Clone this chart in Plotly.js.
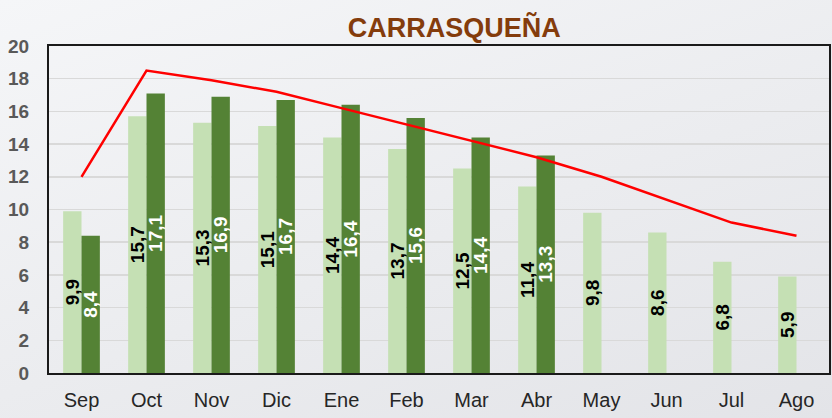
<!DOCTYPE html>
<html>
<head>
<meta charset="utf-8">
<script src="https://cdn.plot.ly/plotly-3.0.1.min.js"></script>
<style>
html,body{margin:0;padding:0;}
body{width:832px;height:418px;background:linear-gradient(160deg,#f5f6f8 0%,#ebecef 55%,#e3e4e8 100%);}
#chart{width:832px;height:418px;}
</style>
</head>
<body>
<div id="chart"></div>
<script>
const months = ["Sep","Oct","Nov","Dic","Ene","Feb","Mar","Abr","May","Jun","Jul","Ago"];
const seriesLight = [9.9,15.7,15.3,15.1,14.4,13.7,12.5,11.4,9.8,8.6,6.8,5.9];
const seriesDark = [8.4,17.1,16.9,16.7,16.4,15.6,14.4,13.3];
const seriesLine = [12.0,18.5,17.9,17.2,16.2,15.2,14.2,13.2,12.0,10.6,9.2,8.4];
const yTicks = [0,2,4,6,8,10,12,14,16,18,20];

const fmt = v => v.toFixed(1).replace('.', ',');
const FONT = '"Liberation Sans", Arial, sans-serif';

const traces = [
  {
    type:'bar', x: months, y: seriesLight,
    marker:{color:'#c5e0b4'},
    text: seriesLight.map(fmt), textposition:'inside', insidetextanchor:'middle',
    textangle:-90, constraintext:'none', cliponaxis:false,
    textfont:{family:FONT, size:19, color:'#000000', weight:'bold'},
    hoverinfo:'skip'
  },
  {
    type:'bar', x: months.slice(0, seriesDark.length), y: seriesDark,
    marker:{color:'#548235'},
    text: seriesDark.map(fmt), textposition:'inside', insidetextanchor:'middle',
    textangle:-90, constraintext:'none', cliponaxis:false,
    textfont:{family:FONT, size:19, color:'#ffffff', weight:'bold'},
    hoverinfo:'skip'
  },
  {
    type:'scatter', mode:'lines', x: months, y: seriesLine,
    line:{color:'#ff0000', width:2.5},
    hoverinfo:'skip'
  }
];

const layout = {
  width:832, height:418,
  margin:{l:49, r:3, t:46, b:45},
  paper_bgcolor:'rgba(0,0,0,0)',
  plot_bgcolor:'rgba(0,0,0,0)',
  showlegend:false,
  barmode:'group',
  bargap:0.435,
  bargroupgap:0,
  title:{
    text:'CARRASQUEÑA',
    font:{family:FONT, size:27, color:'#843c0c', weight:'bold'},
    x:0.546, xanchor:'center', y:0.935, yanchor:'middle', xref:'container', yref:'container'
  },
  xaxis:{
    type:'category', categoryorder:'array', categoryarray: months,
    showgrid:false, zeroline:false,
    showline:true, linecolor:'#1a1a1a', linewidth:2, mirror:true,
    ticks:'', ticklabelstandoff:8,
    tickfont:{family:FONT, size:20, color:'#262626'}
  },
  yaxis:{
    range:[0,20], tickvals:yTicks, ticktext:yTicks.map(String),
    showgrid:true, gridcolor:'#d9d9d9', gridwidth:1.5,
    zeroline:false,
    showline:true, linecolor:'#1a1a1a', linewidth:2, mirror:true,
    ticks:'', ticklabelstandoff:14,
    tickfont:{family:FONT, size:19, color:'#595959', weight:'bold'}
  }
};

Plotly.newPlot('chart', traces, layout, {staticPlot:true, displayModeBar:false});
</script>
</body>
</html>
